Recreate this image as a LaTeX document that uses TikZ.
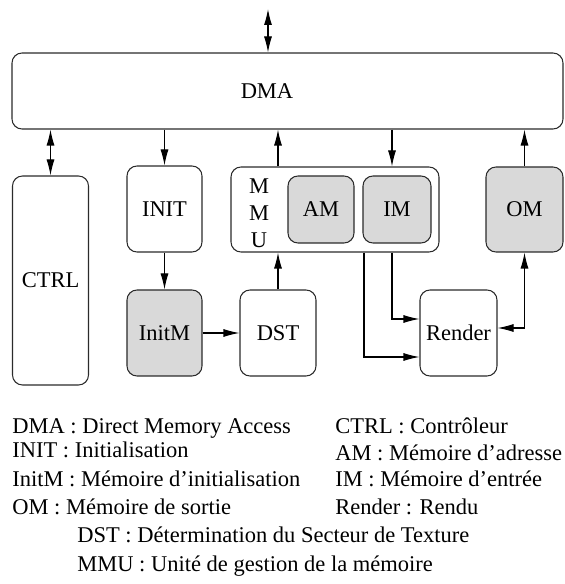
\documentclass[tikz,border=0pt]{standalone}
\usepackage{fontspec}
\setmainfont{Liberation Serif}
\usetikzlibrary{arrows.meta,calc}
\definecolor{gpuLine}{HTML}{2B2B2B}
\definecolor{gpuFill}{HTML}{D9D9D9}
\tikzset{
  gpufont/.style={font=\fontsize{12.8}{15.4}\selectfont},
  gpubox/.style={rounded corners=0.2cm,draw=gpuLine,fill=white,line width=0.6pt,
                 inner sep=0pt,gpufont},
  gpumem/.style={gpubox,fill=gpuFill},
  gpuarrow/.style={-{Latex[length=3.2mm,width=1.6mm]},line width=0.6pt},
  gpudouble/.style={{Latex[length=3.2mm,width=1.6mm]}-{Latex[length=3.2mm,width=1.6mm]},
                    line width=0.6pt},
  gpukey/.style={anchor=base west,inner sep=0pt,gpufont}
}
\begin{document}
\begin{tikzpicture}[x=1cm,y=1cm]
    \useasboundingbox (0,0) rectangle (11.3,11.68);

    % blocks
    \node[gpubox,minimum width=11.02cm,minimum height=1.52cm,
          label={[gpufont,xshift=-0.41cm]center:DMA}] (dma) at (5.75,9.86) {};
    \node[gpubox,minimum width=1.52cm,minimum height=4.18cm] (ctrl)
      at (1.01,6.07) {CTRL};
    \node[gpubox,minimum width=1.5cm,minimum height=1.72cm] (init)
      at (3.29,7.5) {INIT};
    \node[gpumem,minimum width=1.5cm,minimum height=1.72cm] (initm)
      at (3.29,5.02) {InitM};
    \node[gpubox,minimum width=1.52cm,minimum height=1.72cm] (dst)
      at (5.56,5.02) {DST};
    \node[gpubox,minimum width=4.16cm,minimum height=1.7cm] (mmu)
      at (6.7,7.49) {};
    \node[gpufont,align=center,inner sep=0pt] (mmuname) at (5.18,7.42)
      {M\\M\\U};
    \node[gpumem,minimum width=1.32cm,minimum height=1.34cm] (am)
      at (6.42,7.49) {AM};
    \node[gpumem,minimum width=1.36cm,minimum height=1.34cm] (im)
      at (7.94,7.49) {IM};
    \node[gpumem,minimum width=1.54cm,minimum height=1.7cm] (om)
      at (10.49,7.49) {OM};
    \node[gpubox,minimum width=1.54cm,minimum height=1.72cm] (render)
      at (9.17,5.02) {Render};

    % connectors
    \coordinate (ext) at (5.36,11.5);
    \coordinate (inx) at (7.84,0);
    \coordinate (adx) at (7.28,0);
    \draw[gpudouble] (ext) -- (ext |- dma.north);
    \draw[gpudouble] (ctrl.north |- dma.south) -- (ctrl.north);
    \draw[gpuarrow] (init.north |- dma.south) -- (init.north);
    \draw[gpuarrow] (init) -- (initm);
    \draw[gpuarrow] (initm) -- (dst);
    \draw[gpuarrow] (dst) -- (dst |- mmu.south);
    \draw[gpuarrow] (dst |- mmu.north) -- (dst |- dma.south);
    \draw[gpuarrow] (inx |- dma.south) -- (inx |- mmu.north);
    \draw[gpuarrow] (inx |- mmu.south) |- ($(render.west)+(0,0.28)$);
    \draw[gpuarrow] (adx |- mmu.south) |- ($(render.west)+(0,-0.48)$);
    \draw[gpuarrow] (om) -- (om |- dma.south);
    \draw[gpudouble] (om.south) |- ($(render.east)+(0,0.1)$);

    % legend
    \node[gpukey] (keydma) at (0.24,3.02) {DMA : Direct Memory Access};
    \node[gpukey] (keyctrl) at (6.7,3.02) {CTRL : Contrôleur};
    \node[gpukey] (keyinit) at (0.24,2.52) {INIT : Initialisation};
    \node[gpukey] (keyam) at (6.7,2.46) {AM : Mémoire d’adresse};
    \node[gpukey] (keyinitm) at (0.24,1.94) {InitM : Mémoire d’initialisation};
    \node[gpukey] (keyim) at (6.7,1.94) {IM : Mémoire d’entrée};
    \node[gpukey] (keyom) at (0.24,1.38) {OM : Mémoire de sortie};
    \node[gpukey] (keyrender) at (6.7,1.38) {Render : Rendu};
    \node[gpukey] (keydst) at (1.54,0.84)
      {DST : Détermination du Secteur de Texture};
    \node[gpukey] (keymmu) at (1.54,0.26)
      {MMU : Unité de gestion de la mémoire};
  \end{tikzpicture}
\end{document}
